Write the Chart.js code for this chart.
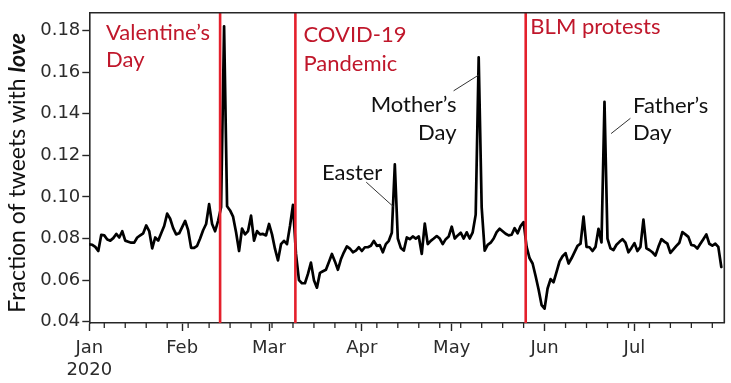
<!DOCTYPE html>
<html><head><meta charset="utf-8">
<script src="https://cdn.jsdelivr.net/npm/chart.js@4/dist/chart.umd.min.js"></script>
<style>html,body{margin:0;padding:0;background:#fff;}</style>
</head><body>
<canvas id="c" width="731" height="383"></canvas>
<script>
// ---------- data ----------
const startDate = '2020-01-01';             // day 0 of the series
const loveFraction = [
 0.0772,0.0770,0.0760,0.0740,0.0818,0.0815,0.0795,0.0790,0.0802,0.0822, // Jan 1-10
 0.0805,0.0835,0.0790,0.0785,0.0780,0.0780,0.0805,0.0815,0.0825,0.0863,
 0.0836,0.0753,0.0805,0.0790,0.0825,0.0860,0.0920,0.0895,0.0850,0.0820,
 0.0825,0.0855,0.0885,0.0840,0.0755,0.0755,0.0765,0.0800,0.0840,0.0870, // Feb
 0.0965,0.0870,0.0835,0.0885,0.0950,0.1820,0.0955,0.0935,0.0905,0.0830,
 0.0740,0.0848,0.0820,0.0836,0.0910,0.0790,0.0836,0.0820,0.0822,0.0815,
 0.0870,0.0820,0.0750,0.0695,0.0773,0.0789,0.0773,0.0860,0.0962,0.0726, // Mar
 0.0600,0.0585,0.0585,0.0630,0.0684,0.0600,0.0564,0.0635,0.0643,0.0650,
 0.0687,0.0726,0.0690,0.0650,0.0700,0.0734,0.0762,0.0752,0.0734,0.0742,
 0.0758,0.0740,0.0758,0.0758,0.0765,0.0789,0.0765,0.0768,0.0734,0.0773, // Apr
 0.0789,0.0828,0.1156,0.0800,0.0755,0.0742,0.0805,0.0797,0.0810,0.0800,
 0.0810,0.0726,0.0872,0.0773,0.0789,0.0800,0.0812,0.0800,0.0773,0.0797,
 0.0810,0.0857,0.0800,0.0815,0.0828,0.0800,0.0830,0.0800,0.0830,0.0915, // May
 0.1671,0.0950,0.0742,0.0770,0.0780,0.0800,0.0831,0.0847,0.0835,0.0823,
 0.0815,0.0818,0.0850,0.0825,0.0860,0.0879,0.0760,0.0705,0.0680,0.0620,
 0.0555,0.0480,0.0463,0.0560,0.0605,0.0590,0.0640,0.0690,0.0715,0.0730, // Jun
 0.0680,0.0705,0.0735,0.0765,0.0775,0.0905,0.0760,0.0758,0.0740,0.0760,
 0.0847,0.0781,0.1457,0.0800,0.0753,0.0745,0.0770,0.0784,0.0797,0.0780,
 0.0734,0.0755,0.0778,0.0740,0.0760,0.0891,0.0753,0.0745,0.0734,0.0718, // Jul
 0.0760,0.0797,0.0785,0.0775,0.0731,0.0748,0.0765,0.0780,0.0831,0.0820,
 0.0808,0.0769,0.0766,0.0752,0.0775,0.0797,0.0820,0.0775,0.0766,0.0775,
 0.0760,0.0663
];
const monthLabels = ['Jan','Feb','Mar','Apr','May','Jun','Jul'];
const monthStartDays = [0,31,60,91,121,152,182];
const lastDay = 212;                         // Jul 31
const yearLabel = '2020';
const yTickValues = [0.04,0.06,0.08,0.10,0.12,0.14,0.16,0.18];
const yTitle = 'Fraction of tweets with ';
const yTitleEmph = 'love';

const eventLines = [43.67, 68.8, 145.7];    // day offsets of red markers
const eventTexts = [['Valentine’s','Day'], ['COVID-19','Pandemic'], ['BLM protests']];
const holidayTexts = [['Easter'], ['Mother’s','Day'], ['Father’s','Day']];

// ---------- derived ----------
const points = loveFraction.map((v, i) => ({x: i, y: v}));
const mondayTicks = [];
for (let d = 5; d <= lastDay; d += 7) if (!monthStartDays.includes(d)) mondayTicks.push(d);

// annotation placement (day, value) anchors
const eventTextPos = [
  {day: 5.58,  vals: [0.17542, 0.16235]},
  {day: 71.5,  vals: [0.17447, 0.16074]},
  {day: 147.25, vals: [0.17812]}
];
const holidayTextPos = [
  {day: 77.65,  vals: [0.1079], align: 'left'},
  {day: 122.6,  vals: [0.14104, 0.12760], align: 'right'},
  {day: 181.55, vals: [0.14024, 0.12760], align: 'left'}
];
const leaderLines = [
  [[92.45, 0.10710], [101.57, 0.09526]],
  [[121.62, 0.15099], [129.97, 0.15857]],
  [[174.2, 0.13044], [180.65, 0.13778]]
];

const TICK_FONT = {family: 'DejaVu Sans', size: 18};
const ANN_FONT = '22px Lato';
const RED_LINE = '#e4202c';
const RED_TEXT = '#c0172b';
const AXIS = '#262626';

const decor = {
  id: 'decor',
  afterDatasetsDraw(chart) {
    const {ctx, chartArea: a, scales: {x, y}} = chart;
    ctx.save();
    ctx.strokeStyle = RED_LINE; ctx.lineWidth = 2.6;
    eventLines.forEach(d => {
      const px = x.getPixelForValue(d);
      ctx.beginPath(); ctx.moveTo(px, a.top); ctx.lineTo(px, a.bottom); ctx.stroke();
    });
    ctx.restore();
  },
  afterDraw(chart) {
    const {ctx, chartArea: a, scales: {x, y}} = chart;
    ctx.save();
    ctx.strokeStyle = AXIS; ctx.lineWidth = 1.6;
    ctx.beginPath();
    ctx.moveTo(a.left, a.top); ctx.lineTo(a.right, a.top); ctx.lineTo(a.right, a.bottom);
    ctx.stroke();
    ctx.lineWidth = 1.3;
    mondayTicks.forEach(d => {
      const px = x.getPixelForValue(d);
      ctx.beginPath(); ctx.moveTo(px, a.bottom); ctx.lineTo(px, a.bottom + 5); ctx.stroke();
    });
    ctx.font = ANN_FONT; ctx.textBaseline = 'alphabetic';
    ctx.fillStyle = RED_TEXT; ctx.textAlign = 'left';
    eventTexts.forEach((lines, i) => {
      const p = eventTextPos[i];
      lines.forEach((t, j) => ctx.fillText(t, x.getPixelForValue(p.day), y.getPixelForValue(p.vals[j])));
    });
    ctx.fillStyle = '#111';
    holidayTexts.forEach((lines, i) => {
      const p = holidayTextPos[i];
      ctx.textAlign = p.align;
      lines.forEach((t, j) => ctx.fillText(t, x.getPixelForValue(p.day), y.getPixelForValue(p.vals[j])));
    });
    ctx.strokeStyle = '#333'; ctx.lineWidth = 1;
    leaderLines.forEach(([p0, p1]) => {
      ctx.beginPath();
      ctx.moveTo(x.getPixelForValue(p0[0]), y.getPixelForValue(p0[1]));
      ctx.lineTo(x.getPixelForValue(p1[0]), y.getPixelForValue(p1[1]));
      ctx.stroke();
    });
    ctx.translate(25, (a.top + a.bottom) / 2 + 5);
    ctx.rotate(-Math.PI / 2);
    ctx.textAlign = 'left'; ctx.fillStyle = '#111';
    const f1 = '23px Lato', f2 = 'italic bold 23px Lato';
    ctx.font = f1; const w1 = ctx.measureText(yTitle).width;
    ctx.font = f2; const w2 = ctx.measureText(yTitleEmph).width;
    const x0 = -(w1 + w2) / 2;
    ctx.font = f1; ctx.fillText(yTitle, x0, 0);
    ctx.font = f2; ctx.fillText(yTitleEmph, x0 + w1, 0);
    ctx.restore();
  }
};

new Chart(document.getElementById('c'), {
  type: 'line',
  data: {datasets: [{
    data: points, borderColor: '#000', borderWidth: 2.7, pointRadius: 0,
    tension: 0, borderJoinStyle: 'round', borderCapStyle: 'round'
  }]},
  options: {
    responsive: false, animation: false, devicePixelRatio: 1,
    layout: {padding: {top: 8, right: 6.7, left: 0, bottom: 0}},
    plugins: {legend: {display: false}, tooltip: {enabled: false}},
    scales: {
      x: {
        type: 'linear', min: 0, max: lastDay,
        afterBuildTicks: s => { s.ticks = monthStartDays.map(v => ({value: v})); },
        afterFit: s => { s.height = 60; },
        ticks: {
          autoSkip: false, maxRotation: 0, padding: 7, color: '#2b2b2b', font: TICK_FONT,
          callback: v => {
            const i = monthStartDays.indexOf(v);
            return i === 0 ? [monthLabels[0], yearLabel] : monthLabels[i];
          }
        },
        grid: {drawOnChartArea: false, tickLength: 8, tickColor: AXIS, tickWidth: 1.4},
        border: {display: true, color: AXIS, width: 1.6}
      },
      y: {
        min: 0.0394, max: 0.1885,
        afterBuildTicks: s => { s.ticks = yTickValues.map(v => ({value: v})); },
        afterFit: s => { s.width = 89.3; },
        ticks: {padding: 2, color: '#2b2b2b', font: TICK_FONT, callback: v => v.toFixed(2)},
        grid: {drawOnChartArea: false, tickLength: 7, tickColor: AXIS, tickWidth: 1.4},
        border: {display: true, color: AXIS, width: 1.6}
      }
    }
  },
  plugins: [decor]
});
</script>
</body></html>
